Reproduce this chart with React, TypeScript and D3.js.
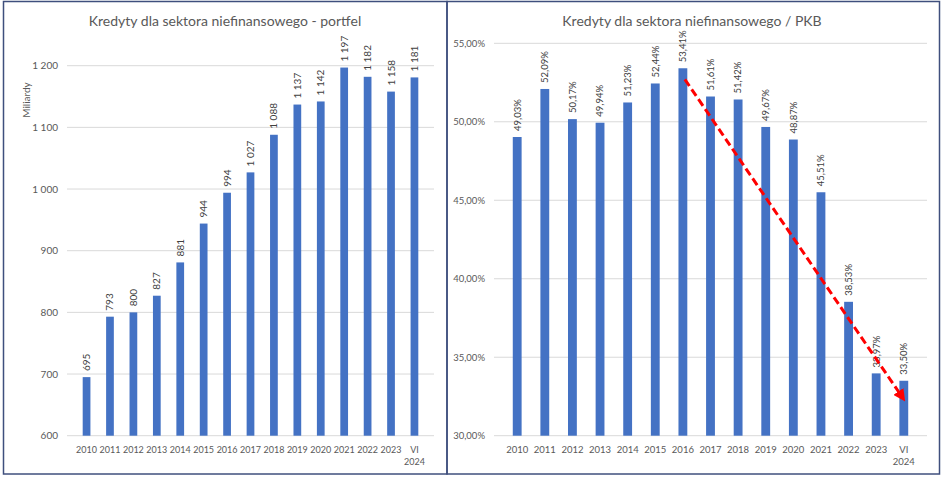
import * as d3 from "d3";
import { useEffect, useRef } from "react";

const categories = [
  "2010", "2011", "2012", "2013", "2014", "2015", "2016", "2017",
  "2018", "2019", "2020", "2021", "2022", "2023", "VI 2024",
];
const portfolio = [695, 793, 800, 827, 881, 944, 994, 1027, 1088, 1137, 1142, 1197, 1182, 1158, 1181];
const toGdp = [49.03, 52.09, 50.17, 49.94, 51.23, 52.44, 53.41, 51.61, 51.42, 49.67, 48.87, 45.51, 38.53, 33.97, 33.5];
const portfolioTicks = [600, 700, 800, 900, 1000, 1100, 1200];
const gdpTicks = [30, 35, 40, 45, 50, 55];
// trend arrow drawn on the right chart: [category, value]
const trendStart: [string, number] = ["2016", 52.7];
const trendEnd: [string, number] = ["VI 2024", 32.5];

const W = 948;
const H = 479;
const FONT = "Lato, 'Open Sans', sans-serif";
const BAR = "#4472C4";
const TEXT = "#595959";
const GRID = "#d9d9d9";
const FRAME = "#3f4f7d";

const fmtSpace = (v: number) => {
  const s = String(Math.round(v));
  return s.length > 3 ? s.slice(0, s.length - 3) + " " + s.slice(-3) : s;
};
const fmtPct = (v: number) => v.toFixed(2).replace(".", ",") + "%";

export default function App() {
  const ref = useRef<SVGSVGElement | null>(null);

  useEffect(() => {
    if (!ref.current) return;
    document.body.style.margin = "0";
    const svg = d3.select(ref.current);
    svg.selectAll("*").remove();

    svg.append("rect").attr("width", W).attr("height", H).attr("fill", "#fff");

    /* -----------------------------
        PANEL HELPER
    ----------------------------- */
    function panel(opts: {
      frame: [number, number, number, number];
      title: string;
      titleX: number;
      plot: { x0: number; x1: number; y0: number; y1: number };
      domain: [number, number];
      ticks: number[];
      values: number[];
      tickFmt: (v: number) => string;
      labelFmt: (v: number) => string;
      labelSize: number;
      tickSize: number;
      xSize: number;
      padding: number;
    }) {
      const [fx, fy, fw, fh] = opts.frame;
      svg
        .append("rect")
        .attr("x", fx)
        .attr("y", fy)
        .attr("width", fw)
        .attr("height", fh)
        .attr("fill", "none")
        .attr("stroke", FRAME)
        .attr("stroke-width", 1.5);

      svg
        .append("text")
        .attr("x", opts.titleX)
        .attr("y", 26)
        .attr("text-anchor", "middle")
        .attr("font-family", FONT)
        .attr("font-size", 14)
        .attr("fill", TEXT)
        .text(opts.title);

      const x = d3
        .scaleBand()
        .domain(categories)
        .range([opts.plot.x0, opts.plot.x1])
        .padding(opts.padding);
      const y = d3.scaleLinear().domain(opts.domain).range([opts.plot.y1, opts.plot.y0]);

      const g = svg.append("g");

      // grid + y tick labels
      g.selectAll(".grid")
        .data(opts.ticks)
        .enter()
        .append("line")
        .attr("x1", opts.plot.x0)
        .attr("x2", opts.plot.x1)
        .attr("y1", (d) => y(d))
        .attr("y2", (d) => y(d))
        .attr("stroke", GRID)
        .attr("stroke-width", 1);

      g.selectAll(".ytick")
        .data(opts.ticks)
        .enter()
        .append("text")
        .attr("x", opts.plot.x0 - 9)
        .attr("y", (d) => y(d))
        .attr("dy", "0.35em")
        .attr("text-anchor", "end")
        .attr("font-family", FONT)
        .attr("font-size", opts.tickSize)
        .attr("fill", TEXT)
        .text((d) => opts.tickFmt(d));

      // bars
      g.selectAll(".bar")
        .data(opts.values)
        .enter()
        .append("rect")
        .attr("x", (_, i) => x(categories[i])!)
        .attr("y", (d) => y(d))
        .attr("width", x.bandwidth())
        .attr("height", (d) => y(opts.domain[0]) - y(d))
        .attr("fill", BAR);

      // value labels (rotated)
      g.selectAll(".lab")
        .data(opts.values)
        .enter()
        .append("text")
        .attr(
          "transform",
          (d, i) => `translate(${x(categories[i])! + x.bandwidth() / 2},${y(d) - 6}) rotate(-90)`
        )
        .attr("dy", "0.35em")
        .attr("font-family", FONT)
        .attr("font-size", opts.labelSize)
        .attr("fill", "#404040")
        .text((d) => opts.labelFmt(d));

      // x labels
      const xl = g
        .selectAll(".xl")
        .data(categories)
        .enter()
        .append("text")
        .attr("x", (d) => x(d)! + x.bandwidth() / 2)
        .attr("y", opts.plot.y1 + 17)
        .attr("text-anchor", "middle")
        .attr("font-family", FONT)
        .attr("font-size", opts.xSize)
        .attr("fill", TEXT);
      xl.each(function (d) {
        const parts = d.split(" ");
        const t = d3.select(this);
        parts.forEach((p, k) => {
          t.append("tspan")
            .attr("x", x(d)! + x.bandwidth() / 2)
            .attr("dy", k === 0 ? 0 : 12.5)
            .text(p);
        });
      });

      return { x, y };
    }

    /* -----------------------------
        LEFT: PORTFOLIO
    ----------------------------- */
    panel({
      frame: [3.5, 1.5, 443.5, 472.5],
      title: "Kredyty dla sektora niefinansowego - portfel",
      titleX: 225,
      plot: { x0: 67, x1: 434, y0: 65.7, y1: 435.7 },
      domain: [600, 1200],
      ticks: portfolioTicks,
      values: portfolio,
      tickFmt: fmtSpace,
      labelFmt: fmtSpace,
      labelSize: 10,
      tickSize: 10,
      xSize: 9,
      padding: 0.67,
    });

    svg
      .append("text")
      .attr("transform", "translate(26,100) rotate(-90)")
      .attr("dy", "0.35em")
      .attr("text-anchor", "middle")
      .attr("font-family", FONT)
      .attr("font-size", 10)
      .attr("fill", TEXT)
      .text("Miliardy");

    /* -----------------------------
        RIGHT: RATIO TO GDP
    ----------------------------- */
    const right = panel({
      frame: [447, 1.5, 492.5, 472.5],
      title: "Kredyty dla sektora niefinansowego / PKB",
      titleX: 692,
      plot: { x0: 494, x1: 927, y0: 43.3, y1: 435.7 },
      domain: [30, 55],
      ticks: gdpTicks,
      values: toGdp,
      tickFmt: fmtPct,
      labelFmt: fmtPct,
      labelSize: 9.5,
      tickSize: 9.5,
      xSize: 9.5,
      padding: 0.68,
    });

    /* -----------------------------
        TREND ARROW
    ----------------------------- */
    const { x, y } = right;
    const half = x.bandwidth() / 2;
    const sx = x(trendStart[0])! + half + 2;
    const sy = y(trendStart[1]);
    const ex = x(trendEnd[0])! + half - 2;
    const ey = y(trendEnd[1]);

    svg
      .append("defs")
      .append("marker")
      .attr("id", "arrow")
      .attr("viewBox", "0 0 10 10")
      .attr("refX", 5)
      .attr("refY", 5)
      .attr("markerWidth", 4)
      .attr("markerHeight", 4)
      .attr("orient", "auto")
      .append("path")
      .attr("d", "M0,0 L10,5 L0,10 z")
      .attr("fill", "#ff0000");

    svg
      .append("line")
      .attr("x1", sx)
      .attr("y1", sy)
      .attr("x2", ex)
      .attr("y2", ey)
      .attr("stroke", "#ff0000")
      .attr("stroke-width", 3)
      .attr("stroke-dasharray", "8,4")
      .attr("marker-end", "url(#arrow)");
  }, []);

  return (
    <svg
      ref={ref}
      width={W}
      height={H}
      style={{ display: "block", position: "absolute", left: 0, top: 0 }}
    />
  );
}
